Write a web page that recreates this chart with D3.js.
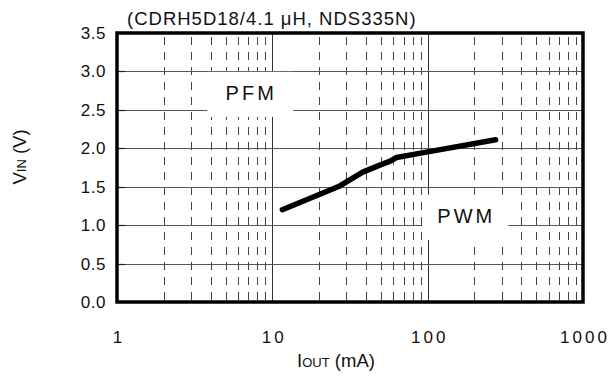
<!DOCTYPE html>
<html>
<head>
<meta charset="utf-8">
<script src="https://cdn.jsdelivr.net/npm/d3@7"></script>
<style>
  html, body { margin: 0; padding: 0; background: #fff; }
  svg { display: block; font-family: "Liberation Sans", Arial, sans-serif; }
</style>
</head>
<body>
<svg id="chart" width="609" height="376"></svg>
<script>
// ---- data ----
const ioutMA = [11.6, 27.2, 38.2, 52, 57, 63, 98, 274];
const vinV   = [1.20, 1.51, 1.69, 1.80, 1.83, 1.88, 1.95, 2.11];
const xTickValues = [1, 10, 100, 1000];
const xTickLabels = ["1", "10", "100", "1000"];
const yTickValues = [0, 0.5, 1.0, 1.5, 2.0, 2.5, 3.0, 3.5];
const yTickLabels = ["0.0", "0.5", "1.0", "1.5", "2.0", "2.5", "3.0", "3.5"];
const titleText = "(CDRH5D18/4.1 \u03BCH, NDS335N)";
const regionLabels = [
  { text: "PFM", x: 7.1, y: 2.63 },
  { text: "PWM", x: 172, y: 1.03 }
];

// ---- layout ----
const W = 609, H = 376;
const M = { left: 117, right: 26, top: 33, bottom: 74 };
const svg = d3.select("#chart");
const x = d3.scaleLog().domain([1, 1000]).range([M.left, W - M.right]);
const y = d3.scaleLinear().domain([0, 3.5]).range([H - M.bottom, M.top]);

const g = svg.append("g");

// minor dashed verticals
const minors = [];
for (let d = 1; d < 1000; d *= 10) for (let k = 2; k <= 9; k++) minors.push(d * k);
g.selectAll("line.minor").data(minors).enter().append("line")
  .attr("x1", d => Math.round(x(d)) + 0.5).attr("x2", d => Math.round(x(d)) + 0.5)
  .attr("y1", y(3.5) + 4).attr("y2", y(0))
  .attr("stroke", "#444").attr("stroke-width", 1)
  .attr("stroke-dasharray", "8,7");

// decade verticals
g.selectAll("line.major").data([10, 100]).enter().append("line")
  .attr("x1", d => Math.round(x(d)) + 0.5).attr("x2", d => Math.round(x(d)) + 0.5)
  .attr("y1", y(3.5)).attr("y2", y(0))
  .attr("stroke", "#333").attr("stroke-width", 1);

// horizontal grid
g.selectAll("line.hgrid").data(yTickValues.slice(1, -1)).enter().append("line")
  .attr("x1", x(1)).attr("x2", x(1000))
  .attr("y1", d => Math.round(y(d)) + 0.5).attr("y2", d => Math.round(y(d)) + 0.5)
  .attr("stroke", "#555").attr("stroke-width", 1);

// small y ticks inside left border
g.selectAll("line.ytick").data(yTickValues.slice(1, -1)).enter().append("line")
  .attr("x1", x(1)).attr("x2", x(1) + 8)
  .attr("y1", d => Math.round(y(d)) + 0.5).attr("y2", d => Math.round(y(d)) + 0.5)
  .attr("stroke", "#222").attr("stroke-width", 1.2);

// region labels with white boxes
const lab = g.selectAll("g.region").data(regionLabels).enter().append("g");
lab.append("rect")
  .attr("x", d => x(d.x) - 42).attr("y", d => y(d.y) - 28)
  .attr("width", 86).attr("height", 45).attr("fill", "#fff");
lab.append("text")
  .attr("x", d => x(d.x) + 2).attr("y", d => y(d.y))
  .attr("text-anchor", "middle").attr("font-size", 20)
  .attr("letter-spacing", "3px")
  .attr("fill", "#111")
  .text(d => d.text);

// data line
const line = d3.line().x(d => x(d[0])).y(d => y(d[1])).curve(d3.curveLinear);
g.append("path").datum(ioutMA.map((v, i) => [v, vinV[i]]))
  .attr("d", line).attr("fill", "none")
  .attr("stroke", "#000").attr("stroke-width", 5.5)
  .attr("stroke-linecap", "round").attr("stroke-linejoin", "round");

// border
g.append("rect")
  .attr("x", x(1)).attr("y", y(3.5))
  .attr("width", x(1000) - x(1)).attr("height", y(0) - y(3.5))
  .attr("fill", "none").attr("stroke", "#000").attr("stroke-width", 3.5);

// x tick labels
g.selectAll("text.xt").data(xTickValues).enter().append("text")
  .attr("x", d => x(d) + 2).attr("y", 343)
  .attr("text-anchor", "middle").attr("font-size", 17)
  .attr("letter-spacing", "3px").attr("fill", "#111")
  .text((d, i) => xTickLabels[i]);

// y tick labels
g.selectAll("text.yt").data(yTickValues).enter().append("text")
  .attr("x", 106).attr("y", d => y(d) + 6)
  .attr("text-anchor", "end").attr("font-size", 17)
  .attr("letter-spacing", "0.5px").attr("fill", "#111")
  .text((d, i) => yTickLabels[i]);

// title
svg.append("text").attr("x", 127).attr("y", 25)
  .attr("font-size", 18.5).attr("letter-spacing", "1px").attr("fill", "#111")
  .text(titleText);

// x axis label
const xl = svg.append("text").attr("x", 336).attr("y", 367)
  .attr("text-anchor", "middle").attr("font-size", 18.5).attr("fill", "#111");
xl.append("tspan").text("I");
xl.append("tspan").attr("font-size", 13).text("OUT");
xl.append("tspan").text(" (mA)");

// y axis label
const yl = svg.append("text")
  .attr("transform", "translate(26,157) rotate(-90)")
  .attr("text-anchor", "middle").attr("font-size", 18.5).attr("fill", "#111");
yl.append("tspan").text("V");
yl.append("tspan").attr("font-size", 13).text("IN");
yl.append("tspan").text(" (V)");
</script>
</body>
</html>
